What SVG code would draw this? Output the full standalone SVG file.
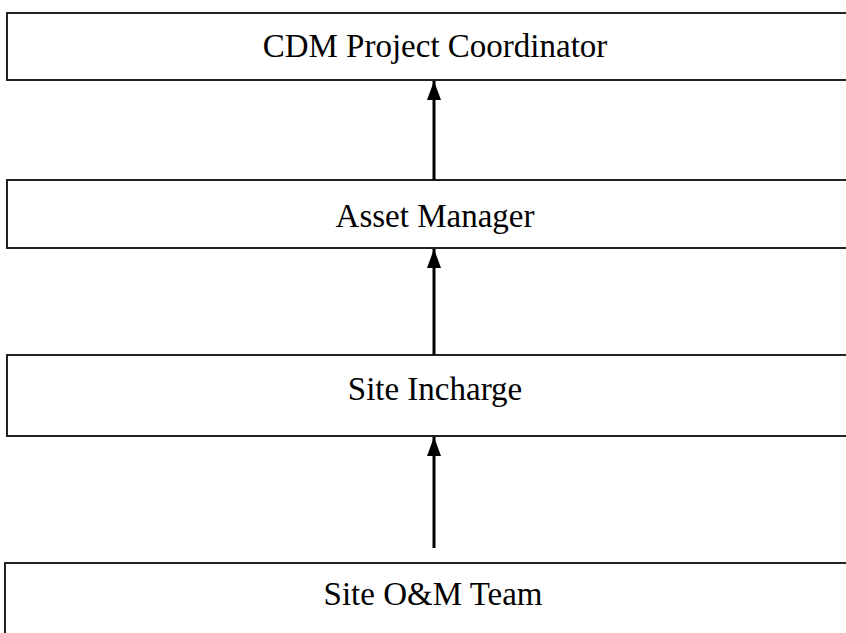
<svg xmlns="http://www.w3.org/2000/svg" width="846" height="633" viewBox="0 0 846 633">
<style>
.box{fill:#fff;stroke:#222;stroke-width:2}
.lbl{font-family:"Liberation Serif","Times New Roman",serif;font-size:33px;fill:#000;text-anchor:middle}
.arr{stroke:#000;stroke-width:3;fill:none;marker-end:url(#ah)}
</style>
<defs>
<marker id="ah" markerWidth="19" markerHeight="14" viewBox="0 0 19 14" refX="19" refY="7" orient="auto" markerUnits="userSpaceOnUse">
<path d="M0,0 L19,7 L0,14 z" fill="#000"/>
</marker>
</defs>
<rect width="846" height="633" fill="#fff"/>
<g id="n1"><rect class="box" x="7" y="13" width="850" height="67"/><text class="lbl" x="435" y="57">CDM Project Coordinator</text></g>
<g id="n2"><rect class="box" x="7" y="180" width="850" height="68"/><text class="lbl" x="435" y="227">Asset Manager</text></g>
<g id="n3"><rect class="box" x="7" y="355" width="850" height="81"/><text class="lbl" x="435" y="400">Site Incharge</text></g>
<g id="n4"><rect class="box" x="5" y="563" width="850" height="80"/><text class="lbl" x="433" y="605">Site O&amp;M Team</text></g>
<g id="edges">
<line class="arr" x1="434" y1="180" x2="434" y2="81"/>
<line class="arr" x1="434" y1="355" x2="434" y2="249"/>
<line class="arr" x1="434" y1="548" x2="434" y2="437"/>
</g>
</svg>
